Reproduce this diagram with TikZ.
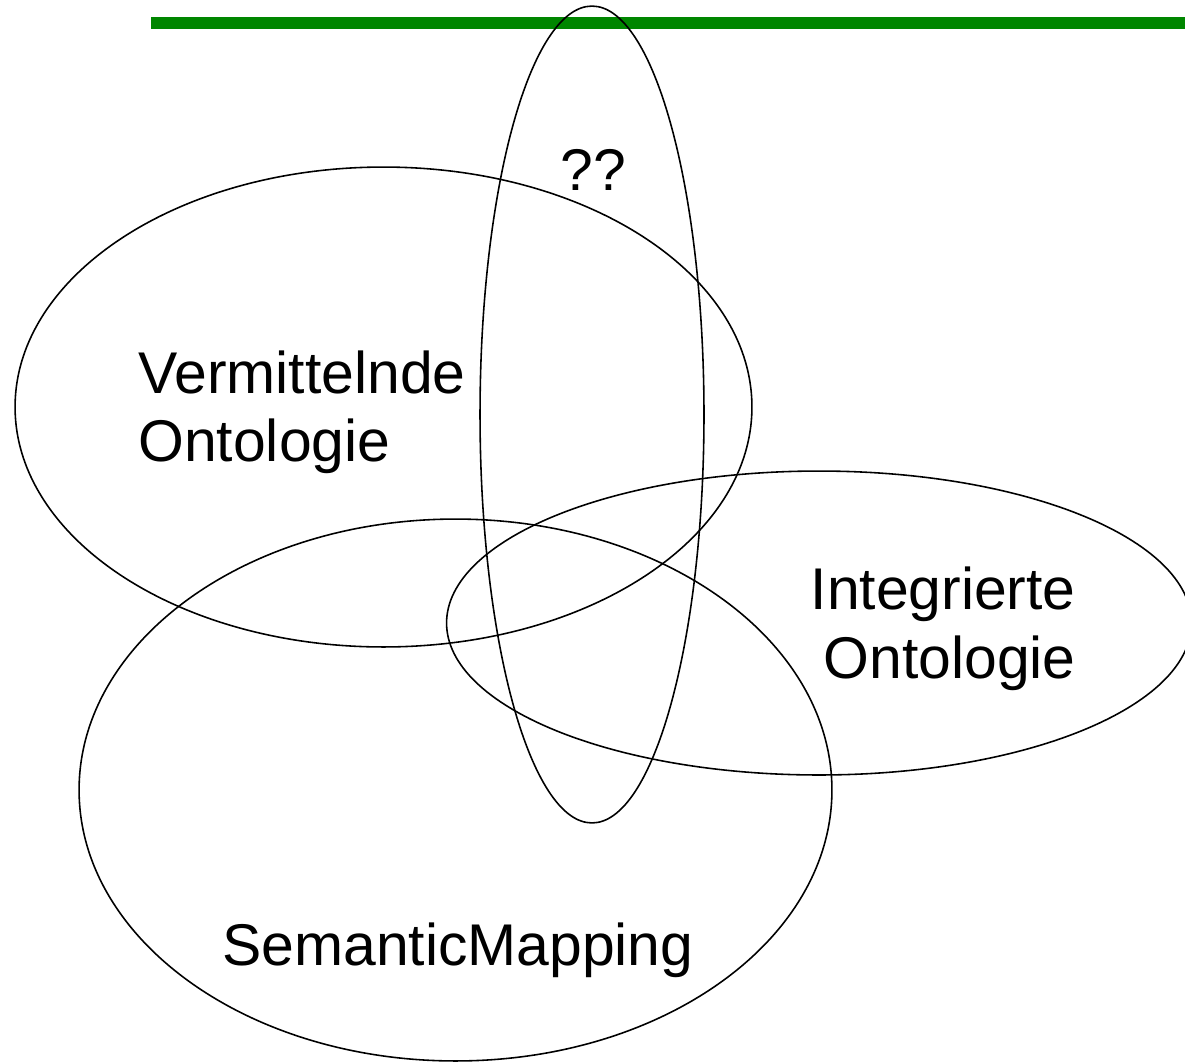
\documentclass[tikz,border=0pt]{standalone}
\usepackage{fontspec}
\setmainfont{Liberation Sans}
\usetikzlibrary{shapes.geometric}
\definecolor{bargreen}{RGB}{0,134,0}
\tikzset{
  venn/.style={draw, ellipse, inner sep=0pt, outer sep=0pt, line width=0.9pt},
  lbl/.style={anchor=base west, inner sep=0pt, font=\fontsize{33.5}{40}\selectfont},
}
\begin{document}
\begin{tikzpicture}[x=0.02cm, y=-0.02cm]
\useasboundingbox (0,0) rectangle (1185,1062);
\clip (0,0) rectangle (1185,1062);
\coordinate (barL) at (151,23);
\coordinate (barR) at (1190,23);
\draw[bargreen, line width=6.8pt] (barL) -- (barR);
\node[venn, minimum width=14.74cm, minimum height=9.6cm] (vo) at (383.5,407) {};
\node[venn, minimum width=14.9cm, minimum height=6.08cm] (io) at (819,623) {};
\node[venn, minimum width=15.06cm, minimum height=10.84cm] (sm) at (455.5,790) {};
\node[venn, minimum width=4.48cm, minimum height=16.34cm] (qq) at (592,414.5) {};
\node[lbl] (t1) at (138,393) {Vermittelnde};
\node[lbl] (t2) at (138,461) {Ontologie};
\node[lbl, anchor=base east] (t3) at (1076,609) {Integrierte};
\node[lbl, anchor=base east] (t4) at (1076,678) {Ontologie};
\node[lbl] (t5) at (222,965) {SemanticMapping};
\node[lbl] (t6) at (560,190) {??};
\end{tikzpicture}
\end{document}
